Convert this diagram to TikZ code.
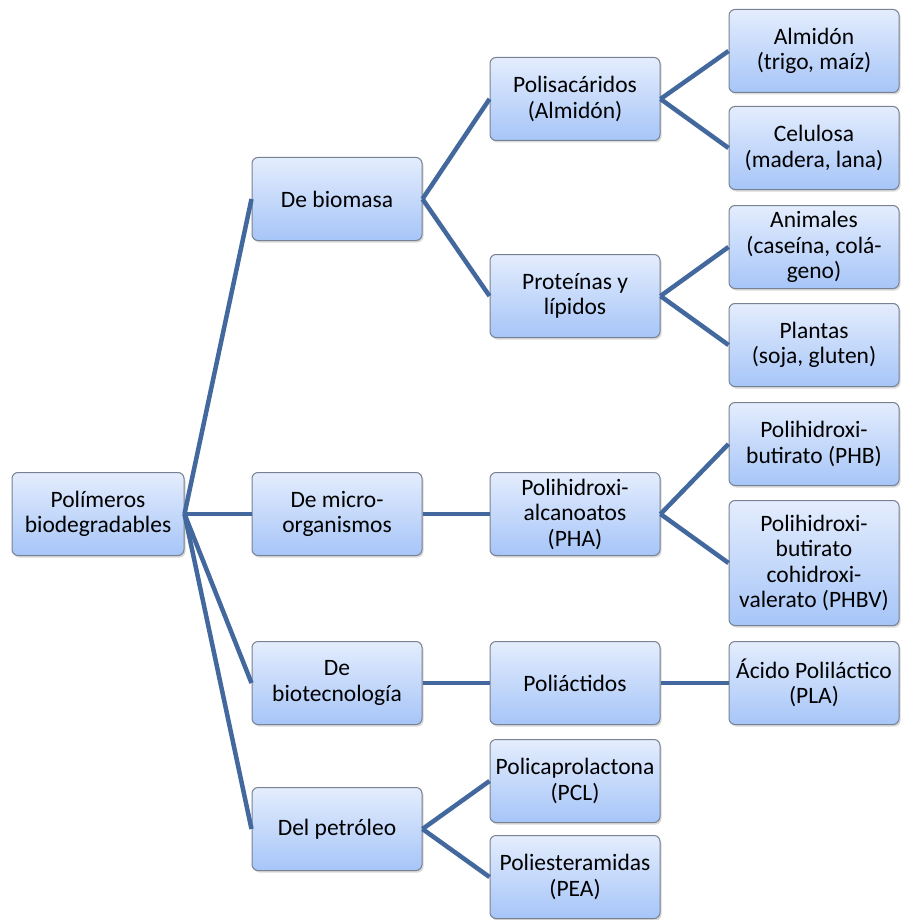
\documentclass[tikz,border=0pt]{standalone}
\usepackage{fontspec}
\setmainfont{Carlito}
\usetikzlibrary{shadows}
\definecolor{boxtop}{RGB}{228,237,253}
\definecolor{boxbot}{RGB}{166,197,248}
\definecolor{boxline}{RGB}{120,130,146}
\definecolor{linkblue}{RGB}{66,104,158}
\tikzset{
  box/.style={draw=boxline, line width=1pt, rounded corners=6pt,
    top color=boxtop, bottom color=boxbot,
    minimum width=170pt, minimum height=83pt, align=center, inner sep=1pt,
    font=\fontsize{23.5}{25.5}\selectfont,
    drop shadow={shadow xshift=1.5pt, shadow yshift=-2pt, opacity=0.3}},
  link/.style={linkblue, line width=4.5pt}
}
\begin{document}
\begin{tikzpicture}[x=1pt,y=-1pt]
\useasboundingbox (0,0) rectangle (901,920);
% Root
\node[box, minimum width=172pt] (root) at (98,514) {Polímeros\\biodegradables};
% First level: origin
\node[box] (bio) at (337,199) {De biomasa};
\node[box] (micro) at (337,514) {De micro-\\organismos};
\node[box] (biotec) at (337,683) {De\\biotecnología};
\node[box] (petro) at (337,829) {Del petróleo};
% Second level: families
\node[box] (polis) at (575,99) {Polisacáridos\\(Almidón)};
\node[box] (prot) at (575,296) {Proteínas y\\lípidos};
\node[box] (pha) at (575,514) {Polihidroxi-\\alcanoatos\\(PHA)};
\node[box] (polia) at (575,683) {Poliáctidos};
\node[box] (pcl) at (575,781) {Policaprolactona\\(PCL)};
\node[box] (pea) at (575,877) {Poliesteramidas\\(PEA)};
% Third level: sources and polymers
\node[box] (almi) at (814,51) {Almidón\\(trigo, maíz)};
\node[box] (celu) at (814,148) {Celulosa\\(madera, lana)};
\node[box] (anim) at (814,247) {Animales\\(caseína, colá-\\geno)};
\node[box] (plan) at (814,345) {Plantas\\(soja, gluten)};
\node[box] (phb) at (814,444) {Polihidroxi-\\butirato (PHB)};
\node[box, minimum height=125pt] (phbv) at (814,563) {Polihidroxi-\\butirato\\cohidroxi-\\valerato (PHBV)};
\node[box] (pla) at (814,683) {Ácido Poliláctico\\(PLA)};
%
% Links
\foreach \a/\b in {root/bio, root/micro, root/biotec, root/petro,
                   bio/polis, bio/prot, micro/pha, biotec/polia, petro/pcl, petro/pea,
                   polis/almi, polis/celu, prot/anim, prot/plan,
                   pha/phb, pha/phbv, polia/pla}
  \draw[link] (\a.east) -- (\b.west);
\end{tikzpicture}
\end{document}
